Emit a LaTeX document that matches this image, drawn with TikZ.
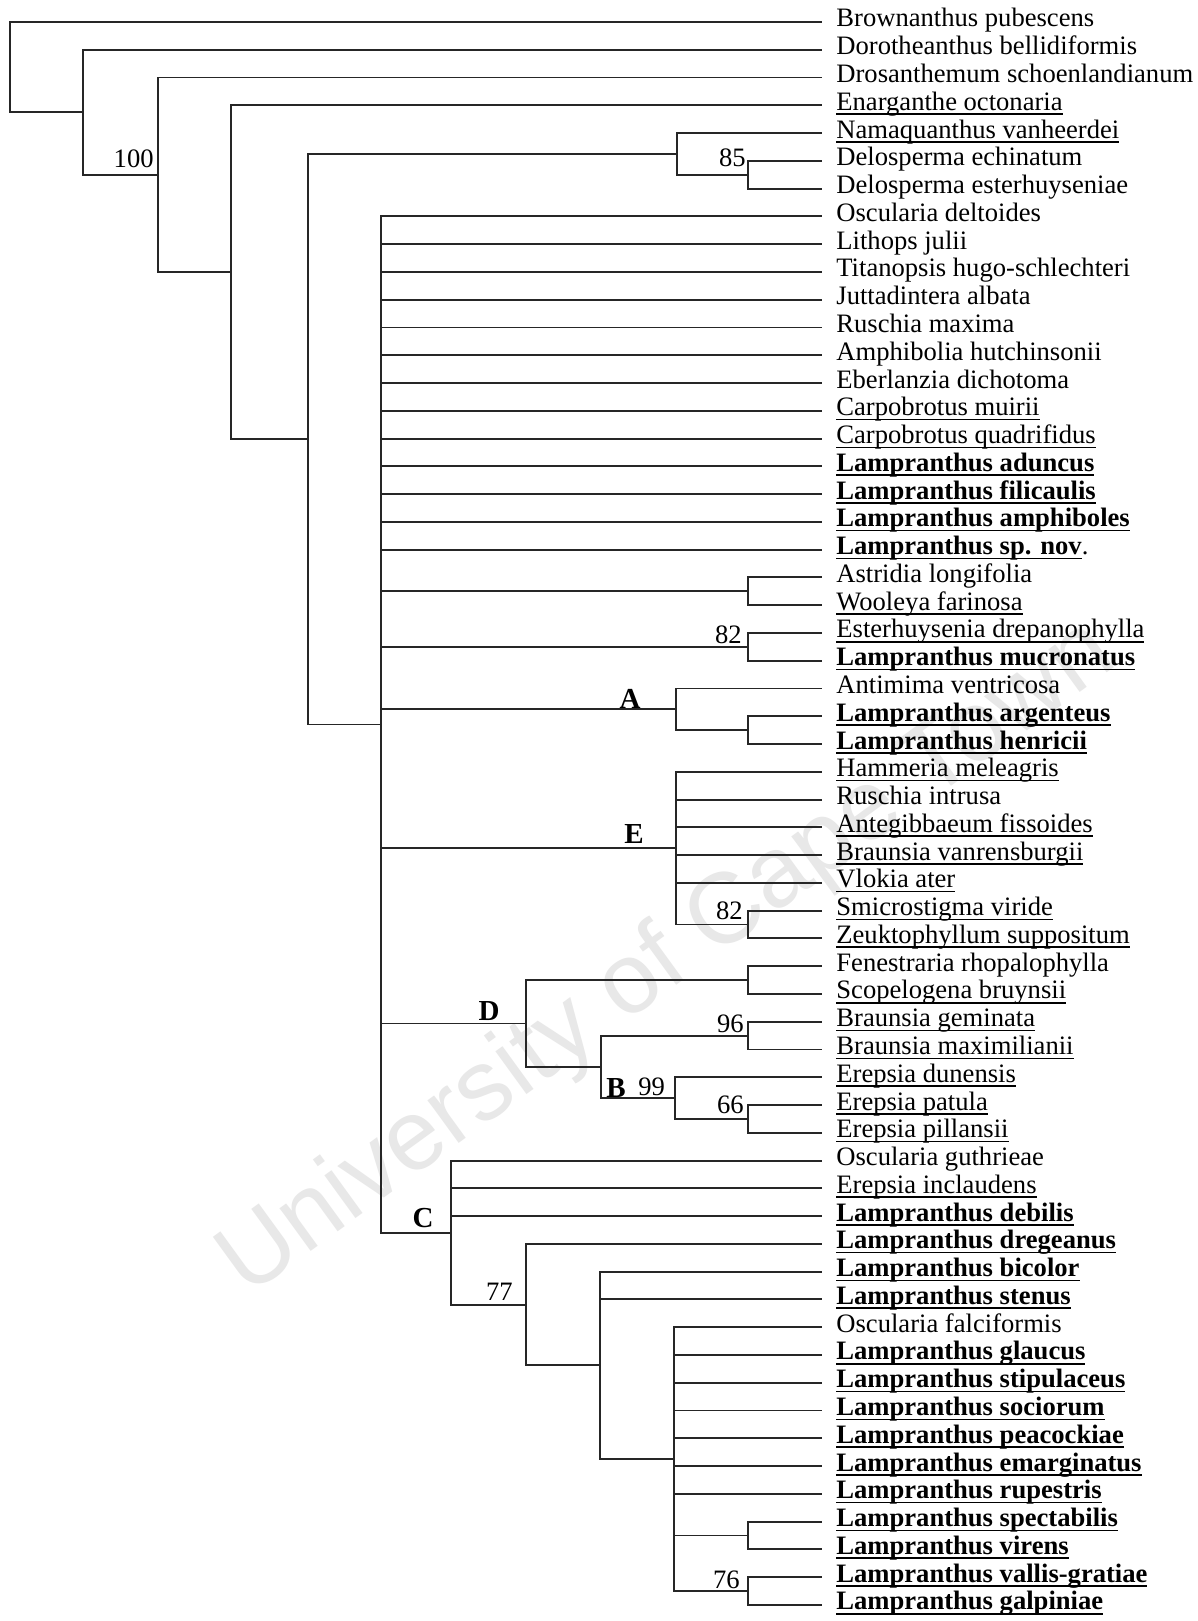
\documentclass[tikz,border=0pt]{standalone}
\usepackage{fontspec}
\setmainfont{Liberation Serif}
\newfontfamily\wmfont{Liberation Sans}
\newsavebox\ulbox
\newcommand\ulx[1]{\sbox\ulbox{#1}\rlap{\vrule height -1.5pt depth 2.3pt width \wd\ulbox}\usebox\ulbox}
\newcommand\bu[1]{\ulx{\textbf{#1}}}
\begin{document}
\begin{tikzpicture}[x=0.5pt,y=-0.5pt,
  edge/.style={line width=0.95pt, draw=black!85},
  leaftext/.style={anchor=base west, inner sep=0pt, font=\fontsize{13.3}{16}\selectfont},
  sup/.style={anchor=base east, inner sep=0pt, font=\fontsize{13.3}{16}\selectfont},
  clade/.style={anchor=base east, inner sep=0pt, font=\fontsize{14.5}{16}\selectfont\bfseries},
  wm/.style={inner sep=0pt, text=black!9, font=\wmfont\fontsize{50}{50}\selectfont}]
\fill[white] (0,0) rectangle (1198,1621);
\useasboundingbox (0,0) rectangle (1198,1621);
\node[wm, rotate=36] (wm) at (668,960) {University of Cape Town};
\newcommand\lf[2]{\coordinate (l#1) at (822,{22+(#1-1)*27.77});
  \node[leaftext] (t#1) at (836,{27+(#1-1)*27.77}) {#2};}
% leaves
\lf{1}{Brownanthus pubescens}
\lf{2}{Dorotheanthus bellidiformis}
\lf{3}{Drosanthemum schoenlandianum}
\lf{4}{\ulx{Enarganthe octonaria}}
\lf{5}{\ulx{Namaquanthus vanheerdei}}
\lf{6}{Delosperma echinatum}
\lf{7}{Delosperma esterhuyseniae}
\lf{8}{Oscularia deltoides}
\lf{9}{Lithops julii}
\lf{10}{Titanopsis hugo-schlechteri}
\lf{11}{Juttadintera albata}
\lf{12}{Ruschia maxima}
\lf{13}{Amphibolia hutchinsonii}
\lf{14}{Eberlanzia dichotoma}
\lf{15}{\ulx{Carpobrotus muirii}}
\lf{16}{\ulx{Carpobrotus quadrifidus}}
\lf{17}{\bu{Lampranthus aduncus}}
\lf{18}{\bu{Lampranthus filicaulis}}
\lf{19}{\bu{Lampranthus amphiboles}}
\lf{20}{\bu{Lampranthus sp. nov}.}
\lf{21}{Astridia longifolia}
\lf{22}{\ulx{Wooleya farinosa}}
\lf{23}{\ulx{Esterhuysenia drepanophylla}}
\lf{24}{\bu{Lampranthus mucronatus}}
\lf{25}{Antimima ventricosa}
\lf{26}{\bu{Lampranthus argenteus}}
\lf{27}{\bu{Lampranthus henricii}}
\lf{28}{\ulx{Hammeria meleagris}}
\lf{29}{Ruschia intrusa}
\lf{30}{\ulx{Antegibbaeum fissoides}}
\lf{31}{\ulx{Braunsia vanrensburgii}}
\lf{32}{\ulx{Vlokia ater}}
\lf{33}{\ulx{Smicrostigma viride}}
\lf{34}{\ulx{Zeuktophyllum suppositum}}
\lf{35}{Fenestraria rhopalophylla}
\lf{36}{\ulx{Scopelogena bruynsii}}
\lf{37}{\ulx{Braunsia geminata}}
\lf{38}{\ulx{Braunsia maximilianii}}
\lf{39}{\ulx{Erepsia dunensis}}
\lf{40}{\ulx{Erepsia patula}}
\lf{41}{\ulx{Erepsia pillansii}}
\lf{42}{Oscularia guthrieae}
\lf{43}{\ulx{Erepsia inclaudens}}
\lf{44}{\bu{Lampranthus debilis}}
\lf{45}{\bu{Lampranthus dregeanus}}
\lf{46}{\bu{Lampranthus bicolor}}
\lf{47}{\bu{Lampranthus stenus}}
\lf{48}{Oscularia falciformis}
\lf{49}{\bu{Lampranthus glaucus}}
\lf{50}{\bu{Lampranthus stipulaceus}}
\lf{51}{\bu{Lampranthus sociorum}}
\lf{52}{\bu{Lampranthus peacockiae}}
\lf{53}{\bu{Lampranthus emarginatus}}
\lf{54}{\bu{Lampranthus rupestris}}
\lf{55}{\bu{Lampranthus spectabilis}}
\lf{56}{\bu{Lampranthus virens}}
\lf{57}{\bu{Lampranthus vallis-gratiae}}
\lf{58}{\bu{Lampranthus galpiniae}}
% internal nodes
\coordinate (root) at (10,67.2);
\coordinate (n1) at (83,112.3);
\coordinate (n2) at (158,174.9);
\coordinate (n3) at (231,272.3);
\coordinate (n4) at (308,439.2);
\coordinate (n85) at (677,153.9);
\coordinate (nDel) at (748,174.7);
\coordinate (n5) at (381,724.5);
\coordinate (nAst) at (748,591.3);
\coordinate (n82a) at (748,646.8);
\coordinate (nA) at (676,709.3);
\coordinate (nAh) at (748,730.1);
\coordinate (nE) at (676,848.2);
\coordinate (n82b) at (748,924.5);
\coordinate (nD) at (526,1023.5);
\coordinate (nFS) at (748,980.1);
\coordinate (nB) at (601,1066.9);
\coordinate (n96) at (748,1035.6);
\coordinate (n99) at (675,1098.1);
\coordinate (n66) at (748,1118.9);
\coordinate (nC) at (451,1232.6);
\coordinate (n77) at (526,1304.6);
\coordinate (n600) at (600,1365.4);
\coordinate (n674) at (674,1459.1);
\coordinate (nSV) at (748,1535.5);
\coordinate (n76) at (748,1591.0);
% edges
\foreach \p/\c in {root/l1, root/n1, n1/l2, n1/n2, n2/l3, n2/n3, n3/l4, n3/n4,
  n4/n85, n4/n5, n85/l5, n85/nDel, nDel/l6, nDel/l7,
  nAst/l21, nAst/l22, n82a/l23, n82a/l24,
  nA/l25, nA/nAh, nAh/l26, nAh/l27,
  nE/n82b, n82b/l33, n82b/l34,
  nD/nFS, nD/nB, nFS/l35, nFS/l36, nB/n96, nB/n99, n96/l37, n96/l38,
  n99/l39, n99/n66, n66/l40, n66/l41,
  nC/l42, nC/l43, nC/l44, nC/n77, n77/l45, n77/n600,
  n600/l46, n600/l47, n600/n674,
  n674/nSV, n674/n76, nSV/l55, nSV/l56, n76/l57, n76/l58}
  \draw[edge] (\p) |- (\c);
\foreach \c in {l8,l9,l10,l11,l12,l13,l14,l15,l16,l17,l18,l19,l20,nAst,n82a,nA,nE,nD,nC}
  \draw[edge] (n5) |- (\c);
\foreach \c in {l28,l29,l30,l31,l32}
  \draw[edge] (nE) |- (\c);
\foreach \c in {l48,l49,l50,l51,l52,l53,l54}
  \draw[edge] (n674) |- (\c);
% support values and clade letters
\node[sup] (s100) at (154,168) {100};
\node[sup] (s85) at (746,167) {85};
\node[sup] (s82a) at (742,643) {82};
\node[sup] (s82b) at (743,919) {82};
\node[sup] (s96) at (744,1032) {96};
\node[sup] (s66) at (744,1113) {66};
\node[sup] (s77) at (513,1300) {77};
\node[sup] (s76) at (740,1588) {76};
\node[sup, anchor=base west] (s99) at (638,1095) {99};
\node[clade] (cA) at (641,708) {A};
\node[clade] (cE) at (644,843) {E};
\node[clade] (cD) at (500,1020) {D};
\node[clade] (cC) at (434,1227) {C};
\node[clade, anchor=base west] (cB) at (606,1097) {B};
\end{tikzpicture}
\end{document}
